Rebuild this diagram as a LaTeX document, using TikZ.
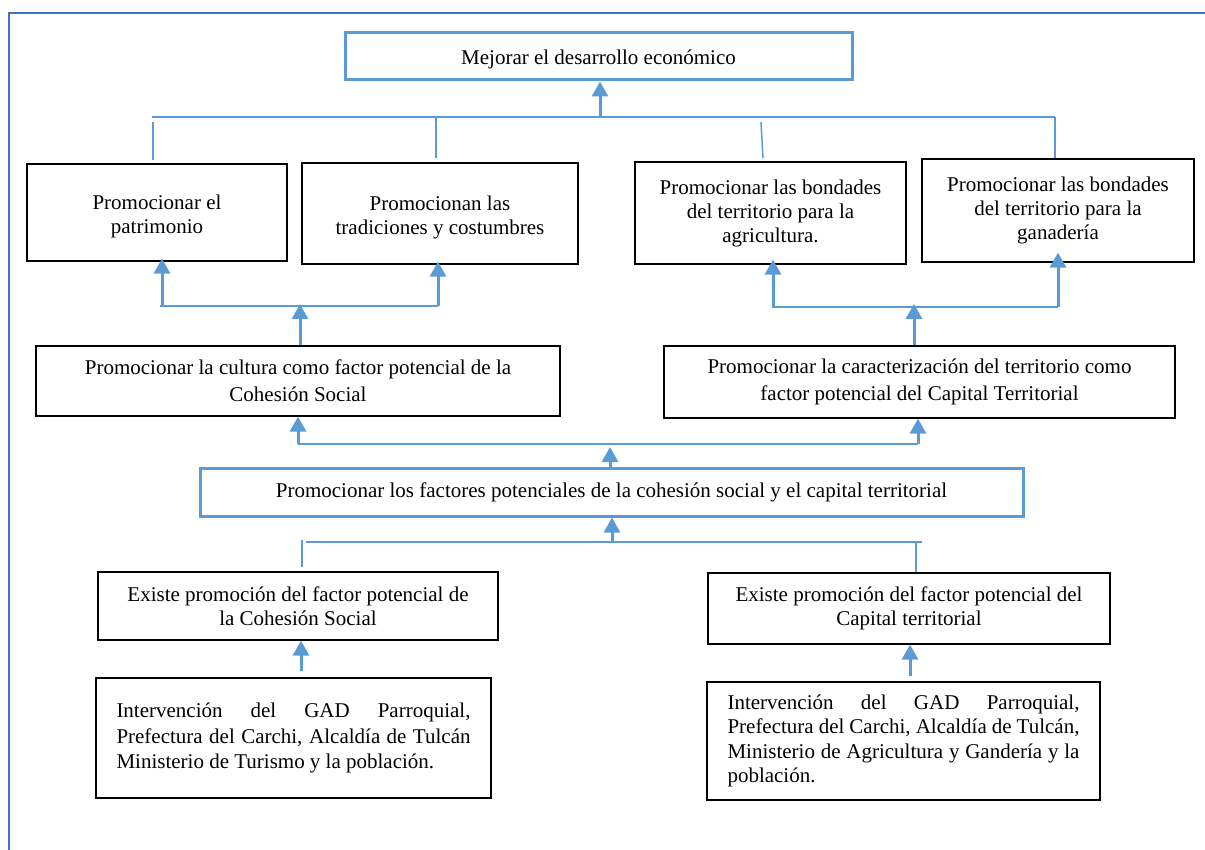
\documentclass[tikz,border=0pt]{standalone}
\usepackage{fontspec}
\setmainfont{Liberation Serif}
\usetikzlibrary{arrows.meta}
\definecolor{linkblue}{HTML}{5B9BD5}
\definecolor{frameblue}{HTML}{4472C4}
\tikzset{
  box/.style={draw=black, line width=1.2pt, inner sep=0pt, align=center,
    font=\fontsize{21}{24}\selectfont},
  widebox/.style={box, font=\fontsize{21}{27}\selectfont},
  bluebox/.style={box, draw=linkblue, line width=3pt},
  uparrow/.style={draw=linkblue, line width=3pt, -{Triangle[length=15pt,width=16pt]}},
  busline/.style={draw=linkblue, line width=2.5pt},
  thinline/.style={draw=linkblue, line width=1.5pt},
  frameline/.style={draw=frameblue, line width=2pt},
}
\begin{document}
\begin{tikzpicture}[x=1pt,y=-1pt]
\useasboundingbox (0,0) rectangle (1205,850);

% page frame
\draw[frameline] (9,850) -- (9,13) -- (1205,13);

% goal
\node[bluebox, text height=20.5pt, minimum width=507pt, minimum height=47pt] (T) at (598.5,56.5)
  {Mejorar el desarrollo económico};

% second row
\node[box, text height=46.5pt, minimum width=260pt, minimum height=97pt] (A) at (157,212.5)
  {Promocionar el\\patrimonio};
\node[box, text height=46.5pt, minimum width=276pt, minimum height=101pt] (B) at (440,213.5)
  {Promocionan las\\tradiciones y costumbres};
\node[box, minimum width=271pt, minimum height=102pt] (C) at (770.5,213)
  {Promocionar las bondades\\del territorio para la\\agricultura.};
\node[box, minimum width=272pt, minimum height=103pt] (D) at (1058,210.5)
  {Promocionar las bondades\\del territorio para la\\ganadería};

% third row
\node[widebox, minimum width=524pt, minimum height=70pt] (E) at (298,381)
  {Promocionar la cultura como factor potencial de la\\Cohesión Social};
\node[widebox, minimum width=511pt, minimum height=72pt] (F) at (919.5,382)
  {Promocionar la caracterización del territorio como\\factor potencial del Capital Territorial};

% central box
\node[bluebox, minimum width=823pt, minimum height=48pt] (G) at (611.5,492)
  {Promocionar los factores potenciales de la cohesión social y el capital territorial};

% lower rows
\node[box, minimum width=400pt, minimum height=68pt] (H) at (298,606)
  {Existe promoción del factor potencial de\\la Cohesión Social};
\node[box, minimum width=402pt, minimum height=71pt] (J) at (909,608.5)
  {Existe promoción del factor potencial del\\Capital territorial};
\node[box, align=left, font=\fontsize{21}{25.5}\selectfont,
      minimum width=395pt, minimum height=120pt] (I) at (293.5,738)
  {\makebox[354pt][s]{Intervención del GAD Parroquial,}\\
   \makebox[354pt][s]{Prefectura del Carchi, Alcaldía de Tulcán}\\
   Ministerio de Turismo y la población.};
\node[box, align=left, font=\fontsize{21}{24.5}\selectfont,
      minimum width=393pt, minimum height=118pt] (K) at (903.5,741)
  {\makebox[352pt][s]{Intervención del GAD Parroquial,}\\
   \makebox[352pt][s]{Prefectura del Carchi, Alcaldía de Tulcán,}\\
   \makebox[352pt][s]{Ministerio de Agricultura y Gandería y la}\\
   población.};

% junction points
\coordinate (topL) at (152,117);
\coordinate (topR) at (1055,117);
\coordinate (topM) at (600,117);
\coordinate (cbL) at (160,306);
\coordinate (cbR) at (438,306);
\coordinate (cbM) at (300,306);
\coordinate (tbL) at (772,307);
\coordinate (tbR) at (1058,307);
\coordinate (tbM) at (914,307);
\coordinate (midL) at (298,444);
\coordinate (midR) at (918,444);
\coordinate (midM) at (610,444);
\coordinate (lowL) at (306,542);
\coordinate (lowR) at (922,542);
\coordinate (lowM) at (612,542);

% goal tree
\draw[thinline] (topL) -- (topR);
\draw[uparrow] (topM) -- (topM |- T.south);
\draw[thinline] (153,122) -- (153,160);
\draw[thinline] (436,117) -- (436,158);
\draw[thinline] (761,122) -- (763,158);
\draw[thinline] (1055,117) -- (1055,158);

% culture branch
\draw[busline] (cbL) -- (cbR);
\draw[uparrow] (162,306) -- ([yshift=3pt]162,0 |- A.south);
\draw[uparrow] (cbR) -- ([yshift=3pt]438,0 |- B.south);
\draw[uparrow] (cbM |- E.north) -- ([yshift=2pt]cbM);

% territory branch
\draw[busline] (tbL) -- (tbR);
\draw[uparrow] (773,307) -- ([yshift=5pt]773,0 |- C.south);
\draw[uparrow] (tbR) -- ([yshift=10pt]1058,0 |- D.south);
\draw[uparrow] (tbM |- F.north) -- ([yshift=3pt]tbM);

% link to the central box
\draw[thinline, line width=2pt] (midL) -- (midR);
\draw[uparrow] (midL) -- (midL |- E.south);
\draw[uparrow] (midR) -- (midR |- F.south);
\draw[uparrow] (midM |- G.north) -- ([yshift=-3pt]midM);

% lower tree
\draw[thinline] (lowL) -- (lowR);
\draw[uparrow] (lowM) -- (lowM |- G.south);
\draw[thinline] (302,540) -- (302,567);
\draw[thinline] (916,542) -- (916,572);

% actors to outcomes
\draw[uparrow] (301,0 |- I.north) ++(0,-6) -- (301,0 |- H.south);
\draw[uparrow] (910,0 |- K.north) ++(0,-5) -- (910,0 |- J.south);
\end{tikzpicture}
\end{document}
